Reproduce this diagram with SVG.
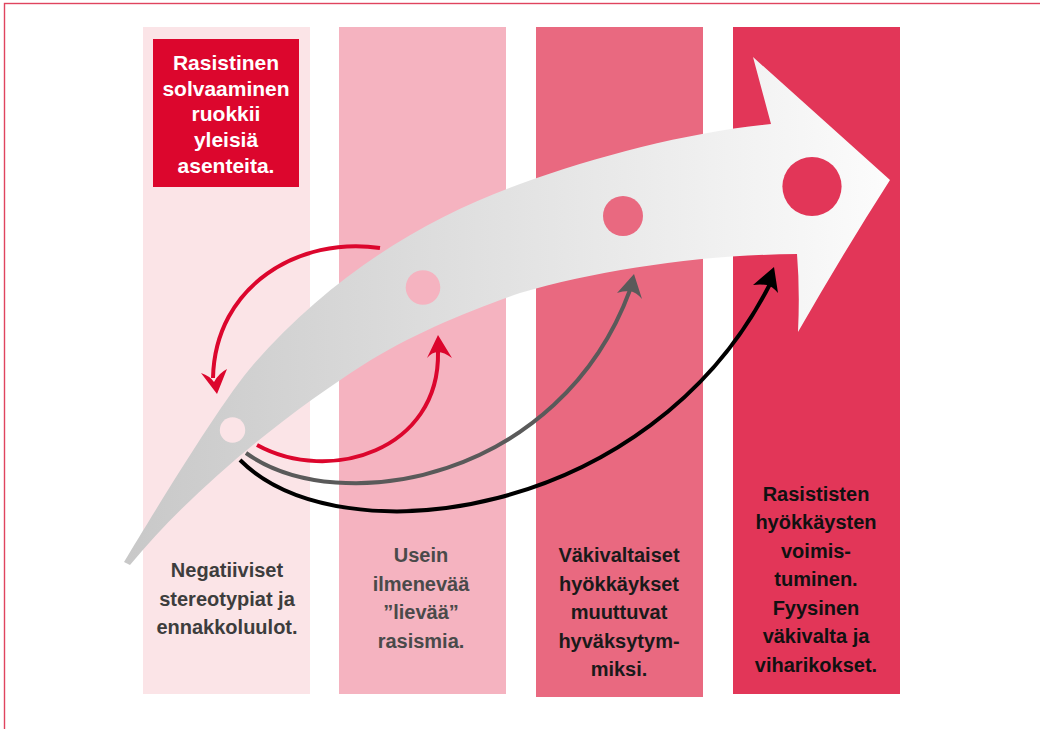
<svg xmlns="http://www.w3.org/2000/svg" width="1040" height="729" viewBox="0 0 1040 729">
<defs>
<linearGradient id="ag" gradientUnits="userSpaceOnUse" x1="124" y1="0" x2="890" y2="0">
<stop offset="0" stop-color="#c8c8c8"/>
<stop offset="1" stop-color="#fcfcfc"/>
</linearGradient>
<style>
.t{font-family:"Liberation Sans",Arial,sans-serif;font-weight:bold;font-size:20px;text-anchor:middle}
.w{fill:#ffffff;font-size:21px}
.conn{fill:none;stroke-width:4}
</style>
</defs>
<rect x="0" y="0" width="1040" height="729" fill="#ffffff"/>
<rect x="4.5" y="3.5" width="1040" height="730" fill="none" stroke="#e0445f" stroke-width="1.4"/>

<g id="col1">
<rect x="143" y="27" width="167" height="667" fill="#fbe4e7"/>
<text class="t" fill="#3d3d3d"><tspan x="227" y="577">Negatiiviset</tspan><tspan x="227" y="605.5">stereotypiat ja</tspan><tspan x="227" y="634">ennakkoluulot.</tspan></text>
</g>
<g id="col2">
<rect x="339" y="27" width="167" height="667" fill="#f5b3c0"/>
<text class="t" fill="#4a4a4a"><tspan x="421" y="562">Usein</tspan><tspan x="421" y="590.5">ilmenevää</tspan><tspan x="421" y="619">”lievää”</tspan><tspan x="421" y="647.5">rasismia.</tspan></text>
</g>
<g id="col3">
<rect x="536" y="27" width="167" height="670" fill="#e96980"/>
<text class="t" fill="#1a1a1a"><tspan x="619" y="562">Väkivaltaiset</tspan><tspan x="619" y="590.5">hyökkäykset</tspan><tspan x="619" y="619">muuttuvat</tspan><tspan x="619" y="647.5">hyväksytym-</tspan><tspan x="619" y="676">miksi.</tspan></text>
</g>
<g id="col4">
<rect x="733" y="27" width="167" height="667" fill="#e23658"/>
<text class="t" fill="#111111"><tspan x="816" y="500.5">Rasististen</tspan><tspan x="816" y="529">hyökkäysten</tspan><tspan x="816" y="557.5">voimis-</tspan><tspan x="816" y="586">tuminen.</tspan><tspan x="816" y="614.5">Fyysinen</tspan><tspan x="816" y="643">väkivalta ja</tspan><tspan x="816" y="671.5">viharikokset.</tspan></text>
</g>

<g id="redbox">
<rect x="153" y="39" width="146" height="148" fill="#dc062d"/>
<text class="t w"><tspan x="226" y="70">Rasistinen</tspan><tspan x="226" y="95.5">solvaaminen</tspan><tspan x="226" y="121">ruokkii</tspan><tspan x="226" y="147">yleisiä</tspan><tspan x="226" y="172.5">asenteita.</tspan></text>
</g>

<g id="bigarrow">
<path d="M124,562 C150,519 222,400 253,365 C333,273 430,216 520,184 C600,155 690,132 771,124 L753,57 L890,180 Q845,250 798,332 Q800,290 797,254 C700,255 600,270 520,293 C470,310 410,335 363,365 C300,405 200,480 130,565 Z" fill="url(#ag)"/>
<circle cx="232.5" cy="430" r="12.7" fill="#fbe4e7"/>
<circle cx="423" cy="287.5" r="17.3" fill="#f5b3c0"/>
<circle cx="623" cy="216" r="20" fill="#e96980"/>
<circle cx="812" cy="186.5" r="29.6" fill="#e23658"/>
</g>

<g id="connectors">
<path class="conn" stroke="#dc062d" d="M380,248 C300,236 215,285 213,378"/>
<path fill="#dc062d" d="M217,394 L201,373 Q210,376 214,382 Q219,373 227,369 Z"/>
<path class="conn" stroke="#dc062d" d="M257,445 C330,485 440,450 438,352"/>
<path fill="#dc062d" d="M438,335 L452,358 Q444,352 438,352 Q432,352 427,358 Z"/>
<path class="conn" stroke="#5a5a5a" d="M246,453 C340,520 560,480 630,290"/>
<path fill="#5a5a5a" d="M634,274 L642,299 Q636,292 630,291 Q622,291 617,293 Z"/>
<path class="conn" stroke="#000000" stroke-width="5" d="M240,460 C340,560 650,520 770,284"/>
<path fill="#000000" d="M774,267 L778,293 Q772,286 767,285 Q760,284 753,285 Z"/>
</g>
</svg>
